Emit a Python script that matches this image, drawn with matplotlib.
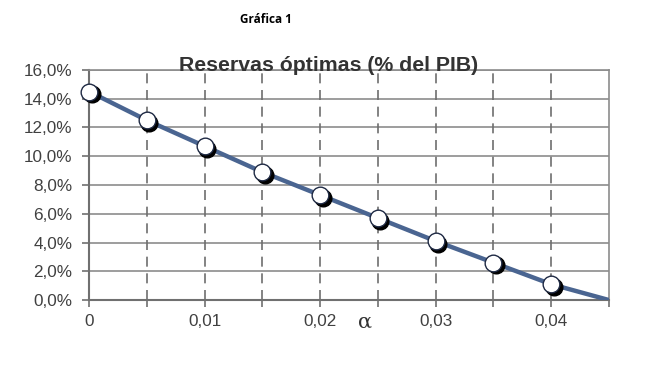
import matplotlib
matplotlib.use('Agg')
import matplotlib.pyplot as plt
import matplotlib.transforms as mtransforms
import numpy as np

# datos
alpha = [0, 0.005, 0.01, 0.015, 0.02, 0.025, 0.03, 0.035, 0.04, 0.045]
reservas = [14.5, 12.5, 10.7, 8.9, 7.3, 5.7, 4.1, 2.6, 1.1, 0.0]
n_marcas = 9  # el ultimo punto (0.045) no lleva marcador

x_ticks = [0, 0.005, 0.01, 0.015, 0.02, 0.025, 0.03, 0.035, 0.04, 0.045]
x_tick_labels = ['0', '', '0,01', '', '0,02', '', '0,03', '', '0,04', '']
y_ticks = [0, 2, 4, 6, 8, 10, 12, 14, 16]
y_tick_labels = ['%.1f%%' % v for v in y_ticks]
y_tick_labels = [s.replace('.', ',') for s in y_tick_labels]

plt.rcParams['font.family'] = ['Liberation Sans', 'DejaVu Sans']

fig = plt.figure(figsize=(6.56, 3.7), dpi=100)
ax = fig.add_axes([0.1357, 0.189, 0.7927, 0.622])

ax.set_xlim(0, 0.045)
ax.set_ylim(0, 16)

# rejilla
for y in y_ticks:
    ax.axhline(y, color='#8c8c8c', lw=1.2, zorder=1)
for x in x_ticks[1:-1]:
    ax.axvline(x, color='#6e6e6e', lw=1.2, ls=(0, (6, 4)), zorder=1)

linea = '#4a6591'
ax.plot(alpha, reservas, color=linea, lw=3.2, zorder=3, solid_capstyle='butt')

# sombra de los marcadores
sombra = mtransforms.offset_copy(ax.transData, fig=fig, x=1.8, y=-1.8, units='points')
ax.plot(alpha[:n_marcas], reservas[:n_marcas], 'o', ms=12, color='black',
        transform=sombra, zorder=4, clip_on=False)
ax.plot(alpha[:n_marcas], reservas[:n_marcas], 'o', ms=12, mfc='white',
        mec='#1f2a44', mew=1.0, zorder=5, clip_on=False)

ax.set_xticks(x_ticks)
ax.set_xticklabels(x_tick_labels)
ax.set_yticks(y_ticks)
ax.set_yticklabels(y_tick_labels)
ax.tick_params(axis='both', direction='out', length=5, width=1.2, color='#707070',
               labelsize=12.3, labelcolor='#404040')
ax.tick_params(axis='x', pad=5)
ax.tick_params(axis='y', pad=7)

for lado in ['top', 'right']:
    ax.spines[lado].set_color('#8c8c8c')
    ax.spines[lado].set_linewidth(1.2)
for lado in ['left', 'bottom']:
    ax.spines[lado].set_color('#707070')
    ax.spines[lado].set_linewidth(1.5)

ax.text(0.4615, 0.995, 'Reservas óptimas (% del PIB)', transform=ax.transAxes,
        ha='center', va='baseline', fontsize=15.3, fontweight='bold', color='#333333')
ax.text(0.53, -0.055, 'α', transform=ax.transAxes, ha='center', va='top',
        fontsize=15, color='#333333', family=['DejaVu Serif'])

fig.text(0.4055, 0.946, 'Gráfica 1', ha='center', va='center', fontsize=8.5,
         fontweight='bold', family=['Open Sans', 'DejaVu Sans'])

fig.savefig('out.png', dpi=100)
